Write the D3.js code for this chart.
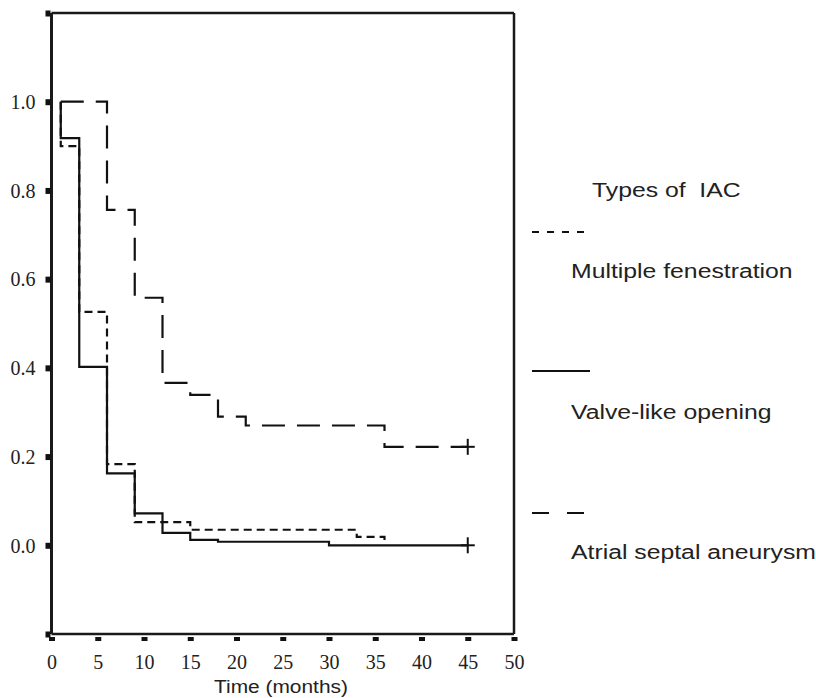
<!DOCTYPE html>
<html>
<head>
<meta charset="utf-8">
<script src="https://cdn.jsdelivr.net/npm/d3@7"></script>
<style>
  body { margin: 0; background: #fff; }
  .tick-label { font-family: "Liberation Serif", "Times New Roman", serif; font-size: 20px; fill: #222; }
  .sans { font-family: "Liberation Sans", Arial, sans-serif; fill: #222; white-space: pre; }
</style>
</head>
<body>
<svg id="chart"></svg>
<script>
// ticks
const xTicks = [0, 5, 10, 15, 20, 25, 30, 35, 40, 45, 50];
const yTicks = [-0.2, 0, 0.2, 0.4, 0.6, 0.8, 1.0, 1.2];
const yTickLabels = ["", "0.0", "0.2", "0.4", "0.6", "0.8", "1.0", ""];

// Kaplan-Meier steps
const fenTimes = [1, 1, 3, 6, 9, 15, 33, 36];
const fenSurv  = [1.0, 0.90, 0.526, 0.183, 0.052, 0.035, 0.019, 0.0];

const valveTimes = [1, 1, 3, 6, 9, 12, 15, 18, 30, 45];
const valveSurv  = [1.0, 0.918, 0.402, 0.162, 0.072, 0.028, 0.012, 0.008, 0.0, 0.0];

const asaTimes = [1, 6, 9, 12, 15, 18, 21, 36, 45];
const asaSurv  = [1.0, 0.756, 0.558, 0.366, 0.339, 0.29, 0.27, 0.222, 0.222];

const seriesNames = ["Multiple fenestration", "Valve-like opening", "Atrial septal aneurysm"];
const censorTimes = [null, 45, 45];
const censorSurv  = [null, 0.0, 0.222];

const W = 816, H = 698;
const svg = d3.select("#chart").attr("width", W).attr("height", H);

const x = d3.scaleLinear().domain([0, 50]).range([51.5, 514]);
const y = d3.scaleLinear().domain([-0.2, 1.2]).range([634, 13]);

const series = [
  {name: seriesNames[0], pts: fenTimes.map((t, i) => [t, fenSurv[i]]), dash: "8,5", legDash: "7,8", ly: 232, ty: 278},
  {name: seriesNames[1], pts: valveTimes.map((t, i) => [t, valveSurv[i]]), dash: null, legDash: null, ly: 371, ty: 419},
  {name: seriesNames[2], pts: asaTimes.map((t, i) => [t, asaSurv[i]]), dash: "23,12", legDash: "17,18", ly: 513, ty: 559}
];

// frame
const frame = svg.append("g").attr("stroke", "#1a1a1a").attr("fill", "none");
frame.append("line").attr("x1", x(0)).attr("x2", x(50)).attr("y1", y(1.2)).attr("y2", y(1.2)).attr("stroke-width", 2.5);
frame.append("line").attr("x1", x(50)).attr("x2", x(50)).attr("y1", y(1.2)).attr("y2", y(-0.2)).attr("stroke-width", 2.5);
frame.append("line").attr("x1", x(0)).attr("x2", x(50)).attr("y1", y(-0.2)).attr("y2", y(-0.2)).attr("stroke-width", 2.5);
frame.append("line").attr("x1", x(0)).attr("x2", x(0)).attr("y1", y(1.2)).attr("y2", y(-0.2)).attr("stroke-width", 3);

// y axis: square ticks + serif labels
const yAxis = d3.axisLeft(y).tickValues(yTicks).tickSize(0).tickPadding(16)
  .tickFormat((d, i) => yTickLabels[i]);
const yG = svg.append("g").attr("transform", `translate(${x(0)},0)`).call(yAxis);
yG.select(".domain").remove();
yG.selectAll(".tick text").attr("class", "tick-label").attr("fill", null).attr("dy", "0.34em");
yG.selectAll(".tick").append("rect").attr("x", -6).attr("y", -3).attr("width", 5).attr("height", 6).attr("fill", "#111");

// x axis
const xAxis = d3.axisBottom(x).tickValues(xTicks).tickSize(0).tickPadding(21);
const xG = svg.append("g").attr("transform", `translate(0,${y(-0.2)})`).call(xAxis);
xG.select(".domain").remove();
xG.selectAll(".tick text").attr("class", "tick-label").attr("fill", null);
xG.selectAll(".tick").append("rect").attr("x", -3).attr("y", 3).attr("width", 6).attr("height", 4).attr("fill", "#111");

// curves
const line = d3.line().x(d => x(d[0])).y(d => y(d[1])).curve(d3.curveStepAfter);
svg.append("g").selectAll("path").data(series).join("path")
  .attr("d", d => line(d.pts))
  .attr("fill", "none")
  .attr("stroke", "#111")
  .attr("stroke-width", 2.2)
  .attr("stroke-dasharray", d => d.dash);

// censor marks
const cens = censorTimes.map((t, i) => ({t, s: censorSurv[i]})).filter(d => d.t !== null);
const cg = svg.append("g").attr("stroke", "#111").attr("stroke-width", 2);
cg.selectAll(".ch").data(cens).join("line")
  .attr("x1", d => x(d.t) - 7).attr("x2", d => x(d.t) + 7)
  .attr("y1", d => y(d.s)).attr("y2", d => y(d.s));
cg.selectAll(".cv").data(cens).join("line")
  .attr("x1", d => x(d.t)).attr("x2", d => x(d.t))
  .attr("y1", d => y(d.s) - 8).attr("y2", d => y(d.s) + 8);

// x title
svg.append("text").attr("class", "sans")
  .attr("transform", `translate(281,693) scale(1.1,1)`)
  .attr("text-anchor", "middle").attr("font-size", 19)
  .text("Time (months)");

// legend
const leg = svg.append("g");
leg.append("text").attr("class", "sans")
  .attr("transform", "translate(592,197) scale(1.18,1)")
  .attr("font-size", 21)
  .text("Types of  IAC");
leg.selectAll(".lline").data(series).join("line")
  .attr("x1", 532).attr("x2", 590)
  .attr("y1", d => d.ly).attr("y2", d => d.ly)
  .attr("stroke", "#111").attr("stroke-width", 2)
  .attr("stroke-dasharray", d => d.legDash);
leg.selectAll(".ltext").data(series).join("text").attr("class", "sans")
  .attr("transform", d => `translate(571,${d.ty}) scale(1.18,1)`)
  .attr("font-size", 21)
  .text(d => d.name);
</script>
</body>
</html>
